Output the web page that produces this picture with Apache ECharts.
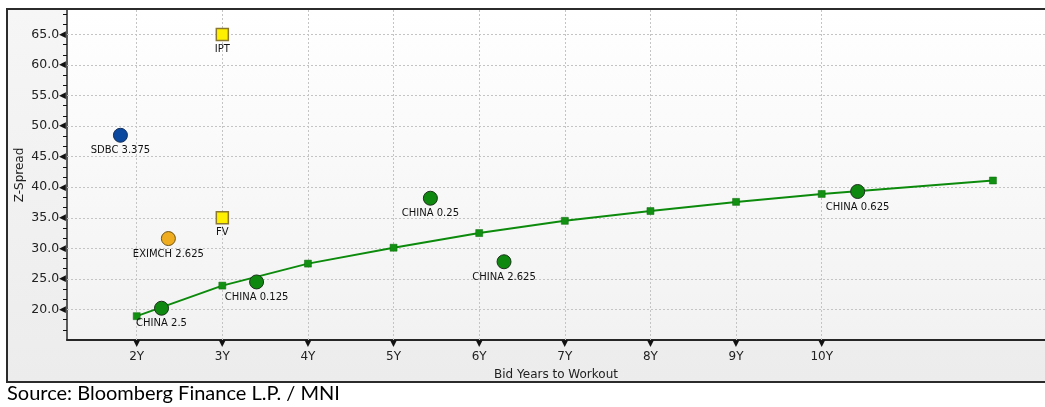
<!DOCTYPE html>
<html>
<head>
<meta charset="utf-8">
<script src="https://cdn.jsdelivr.net/npm/echarts@6/dist/echarts.min.js"></script>
<style>
html,body{margin:0;padding:0;background:#fff;}
#c{width:1045px;height:407px;}
</style>
</head>
<body>
<div id="c"></div>
<script>
// ---- data ----
var xTickValues = [2, 3, 4, 5, 6, 7, 8, 9, 10];
var xTickLabels = ['2Y', '3Y', '4Y', '5Y', '6Y', '7Y', '8Y', '9Y', '10Y'];
var yTickValues = [20, 25, 30, 35, 40, 45, 50, 55, 60, 65];

var curveYears = [2, 3, 4, 5, 6, 7, 8, 9, 10, 12];
var curveSpread = [18.9, 23.9, 27.5, 30.1, 32.5, 34.5, 36.1, 37.6, 38.9, 41.1];

var chinaNames = ['CHINA 2.5', 'CHINA 0.125', 'CHINA 0.25', 'CHINA 2.625', 'CHINA 0.625'];
var chinaYears = [2.29, 3.40, 5.43, 6.29, 10.42];
var chinaSpread = [20.2, 24.5, 38.2, 27.8, 39.3];

var sdbcNames = ['SDBC 3.375'];
var sdbcYears = [1.81];
var sdbcSpread = [48.5];

var eximNames = ['EXIMCH 2.625'];
var eximYears = [2.37];
var eximSpread = [31.6];

var fvNames = ['IPT', 'FV'];
var fvYears = [3.0, 3.0];
var fvSpread = [65.0, 35.0];

var xAxisName = 'Bid Years to Workout';
var yAxisName = 'Z-Spread';
var sourceText = 'Source: Bloomberg Finance L.P. / MNI';

// ---- build ----
function pts(xs, ys, names) {
  return xs.map(function (x, i) {
    return names ? { value: [x, ys[i]], name: names[i] } : [x, ys[i]];
  });
}
var labelFont = { fontFamily: 'DejaVu Sans', fontSize: 10, color: '#111' };
function ptLabel() {
  return Object.assign({ show: true, position: 'bottom', distance: 3, formatter: '{b}' }, labelFont);
}

var gridLines = xTickValues.map(function (v) { return { xAxis: v }; })
  .concat(yTickValues.map(function (v) { return { yAxis: v }; }));

var chart = echarts.init(document.getElementById('c'), null, { renderer: 'canvas' });
chart.setOption({
  animation: false,
  backgroundColor: '#ffffff',
  graphic: [
    { type: 'rect', z: -1, shape: { x: 7, y: 9, width: 1045, height: 373 },
      style: { fill: new echarts.graphic.LinearGradient(0, 0, 0, 1, [
        { offset: 0, color: '#f6f6f6' }, { offset: 1, color: '#ececec' }]) } },
    { type: 'rect', z: 100, shape: { x: 7, y: 9, width: 1045, height: 373 },
      style: { fill: null, stroke: '#2b2b2b', lineWidth: 2 } },
    { type: 'text', left: 7, top: 384, z: 100,
      style: { text: sourceText, font: '20px Lato', fill: '#000' } }
  ],
  grid: {
    left: 67, right: 0, top: 10, bottom: 67, show: true, borderWidth: 0,
    backgroundColor: new echarts.graphic.LinearGradient(0, 0, 0, 1, [
      { offset: 0, color: '#ffffff' }, { offset: 1, color: '#f2f2f2' }])
  },
  xAxis: {
    type: 'value', min: 1.186, max: 12.608,
    name: xAxisName, nameLocation: 'middle', nameGap: 29,
    nameTextStyle: { fontFamily: 'DejaVu Sans', fontSize: 12, color: '#222' },
    axisLine: { show: true, onZero: false, lineStyle: { color: '#262626', width: 2 } },
    axisTick: { show: false },
    splitLine: { show: false },
    axisLabel: {
      customValues: xTickValues, margin: 0,
      formatter: function (v) {
        var i = xTickValues.indexOf(Math.round(v * 1000) / 1000);
        return i < 0 ? '' : '{t|▼}\n{v|' + xTickLabels[i] + '}';
      },
      rich: {
        t: { fontSize: 9, lineHeight: 8, color: '#111', fontFamily: 'DejaVu Sans' },
        v: { fontSize: 12, lineHeight: 17, color: '#222', fontFamily: 'DejaVu Sans' }
      }
    }
  },
  yAxis: {
    type: 'value', min: 15, max: 69, interval: 5,
    name: yAxisName, nameLocation: 'middle', nameGap: 41, nameMoveOverlap: false,
    nameTextStyle: { fontFamily: 'DejaVu Sans', fontSize: 12, color: '#222' },
    axisLine: { show: true, onZero: false, lineStyle: { color: '#262626', width: 1.5 } },
    axisTick: { show: false },
    minorTick: { show: true, splitNumber: 3, length: 4, lineStyle: { color: '#111', width: 1 } },
    splitLine: { show: false },
    axisLabel: {
      margin: 1,
      formatter: function (v) {
        return yTickValues.indexOf(v) < 0 ? '' : '{v|' + v.toFixed(1) + '}{t|◀}';
      },
      rich: {
        t: { fontSize: 9, color: '#111', fontFamily: 'DejaVu Sans' },
        v: { fontSize: 12.5, color: '#222', fontFamily: 'DejaVu Sans' }
      }
    }
  },
  series: [
    {
      type: 'line', data: [], z: 1, silent: true,
      markLine: {
        z: 1, silent: true, symbol: 'none', label: { show: false },
        lineStyle: { color: '#c4c4c4', type: [2, 2], width: 1 },
        data: gridLines, animation: false
      }
    },
    {
      type: 'line', data: pts(curveYears, curveSpread), z: 3,
      symbol: 'rect', symbolSize: 7,
      lineStyle: { color: '#0b8a0b', width: 2 },
      itemStyle: { color: '#129012', borderColor: '#0a6a0a', borderWidth: 0.5, opacity: 1 }
    },
    {
      type: 'scatter', data: pts(chinaYears, chinaSpread, chinaNames), z: 5,
      symbol: 'circle', symbolSize: 14,
      itemStyle: { color: '#0f880f', borderColor: '#1c331c', borderWidth: 1, opacity: 1 },
      label: ptLabel()
    },
    {
      type: 'scatter', data: pts(sdbcYears, sdbcSpread, sdbcNames), z: 5,
      symbol: 'circle', symbolSize: 14,
      itemStyle: { color: '#0a48a0', borderColor: '#15305a', borderWidth: 1, opacity: 1 },
      label: ptLabel()
    },
    {
      type: 'scatter', data: pts(eximYears, eximSpread, eximNames), z: 5,
      symbol: 'circle', symbolSize: 14,
      itemStyle: { color: '#eeac1e', borderColor: '#6e5312', borderWidth: 1, opacity: 1 },
      label: ptLabel()
    },
    {
      type: 'scatter', data: pts(fvYears, fvSpread, fvNames), z: 5,
      symbol: 'rect', symbolSize: 12,
      itemStyle: { color: '#fff000', borderColor: '#8a7830', borderWidth: 1.5, opacity: 1 },
      label: ptLabel()
    }
  ]
});
</script>
</body>
</html>
